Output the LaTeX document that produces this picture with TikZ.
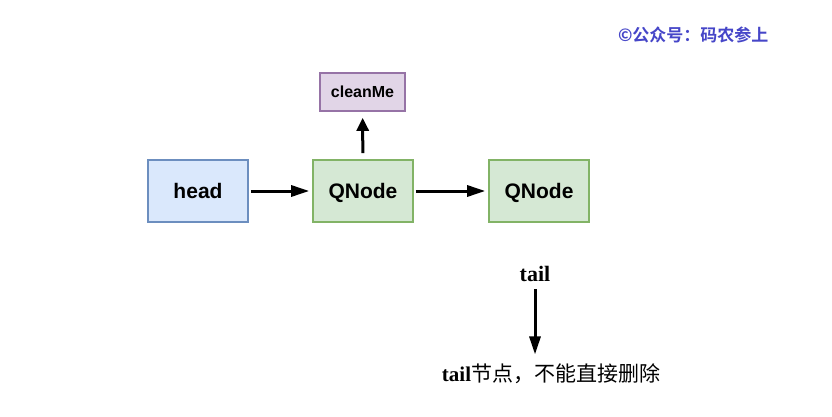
\documentclass[tikz,border=0pt]{standalone}
\usepackage{fontspec}
\setmainfont{Liberation Serif}
\setsansfont{Liberation Sans}
\newfontfamily\cjk{Noto Sans CJK SC}
\newfontfamily\cjkbold{Noto Sans CJK SC Bold}
\usetikzlibrary{arrows.meta}
\definecolor{bluefill}{HTML}{DAE8FC}
\definecolor{blueline}{HTML}{6C8EBF}
\definecolor{greenfill}{HTML}{D5E8D4}
\definecolor{greenline}{HTML}{82B366}
\definecolor{purplefill}{HTML}{E1D5E7}
\definecolor{purpleline}{HTML}{9673A6}
\definecolor{wmark}{HTML}{4646C8}
\begin{document}
\begin{tikzpicture}[x=1pt,y=-1pt,
  box/.style={draw, line width=1.6pt, minimum width=100pt, minimum height=62pt, inner sep=0pt,
    text height=15pt, text depth=1pt,
    font=\sffamily\bfseries\fontsize{21}{24}\selectfont},
  bluebox/.style={box, fill=bluefill, draw=blueline},
  greenbox/.style={box, fill=greenfill, draw=greenline},
  purplebox/.style={draw=purpleline, fill=purplefill, line width=1.6pt, minimum width=85pt, minimum height=38pt, inner sep=0pt,
    font=\sffamily\bfseries\fontsize{16}{19}\selectfont},
  link/.style={line width=3pt, -{Triangle[length=18pt,width=11pt]}, shorten <=2pt, shorten >=3pt}
]
\useasboundingbox (0,0) rectangle (832,417);
\node[bluebox] (head) at (198,191) {head};
\node[greenbox] (q1) at (363,191) {QNode};
\node[greenbox] (q2) at (539,191) {QNode};
\node[purplebox] (clean) at (362.5,92) {cleanMe};
\node[font=\rmfamily\bfseries\fontsize{22}{26}\selectfont] (tail) at (535,274) {tail};
\node[font=\fontsize{21}{25}\selectfont] (note) at (551,374) {\textbf{tail}\cjk 节点，不能直接删除};
\node[font=\fontsize{17}{20}\selectfont, text=wmark, anchor=east] (wm) at (772,35) {\cjkbold ©公众号：码农参上};
\draw[link] (head) -- (q1);
\draw[link] (q1) -- (q2);
\draw[link, -{Triangle[length=13pt,width=12pt]}, shorten <=6pt, shorten >=6pt] (q1) -- (clean);
\draw[link, shorten <=4pt, shorten >=6pt] (tail) -- (tail |- note.north);
\end{tikzpicture}
\end{document}
